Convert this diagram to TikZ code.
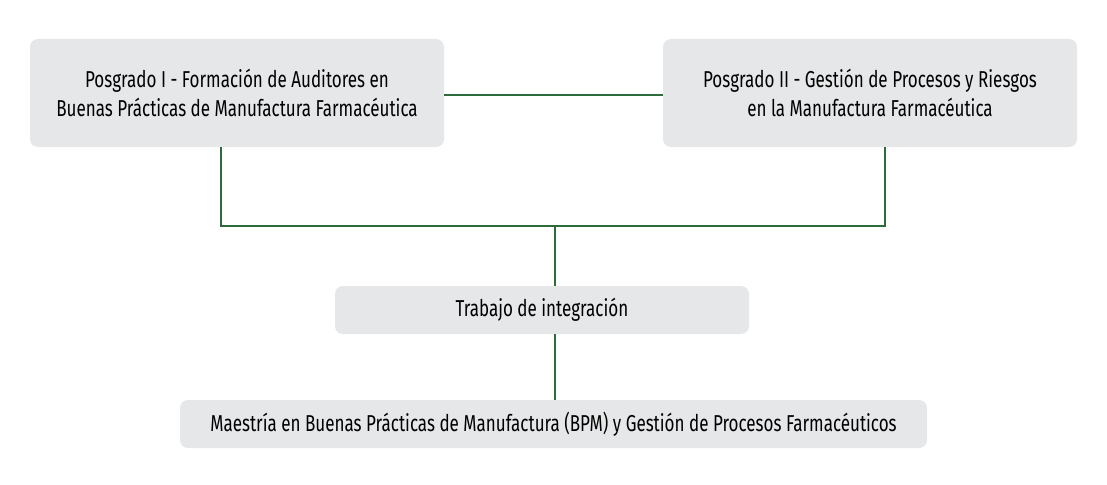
\documentclass[tikz,border=0pt]{standalone}
\usepackage{fontspec}
\setmainfont[FakeStretch=0.74]{Fira Sans}
\begin{document}
\begin{tikzpicture}[x=1pt,y=-1pt,
  box/.style={fill=boxgray,rounded corners=8pt,inner sep=0pt,align=center,text=black,font=\fontsize{23}{29}\selectfont},
  link/.style={draw=linegreen,line width=1.6pt}]
\definecolor{boxgray}{HTML}{E6E7E8}
\definecolor{linegreen}{HTML}{2E6B3A}
\useasboundingbox (0,0) rectangle (1107,484);
\node[box,minimum width=414pt,minimum height=108pt] (p1) at (237,93) {Posgrado I - Formación de Auditores en\\Buenas Prácticas de Manufactura Farmacéutica};
\node[box,minimum width=414pt,minimum height=108pt] (p2) at (870,93) {Posgrado II - Gestión de Procesos y Riesgos\\en la Manufactura Farmacéutica};
\node[box,minimum width=414pt,minimum height=48pt] (t) at (542,310) {Trabajo de integración};
\node[box,minimum width=747pt,minimum height=48pt] (m) at (553.5,424) {Maestría en Buenas Prácticas de Manufactura (BPM) y Gestión de Procesos Farmacéuticos};
\coordinate (j) at (555,226);
\draw[link] (p1.east |- 0,95) -- (p2.west |- 0,95);
\draw[link] (221,147) |- (j) -| (885,147);
\draw[link] (j) -- (j |- t.north);
\draw[link] (j |- t.south) -- (j |- m.north);
\end{tikzpicture}
\end{document}
